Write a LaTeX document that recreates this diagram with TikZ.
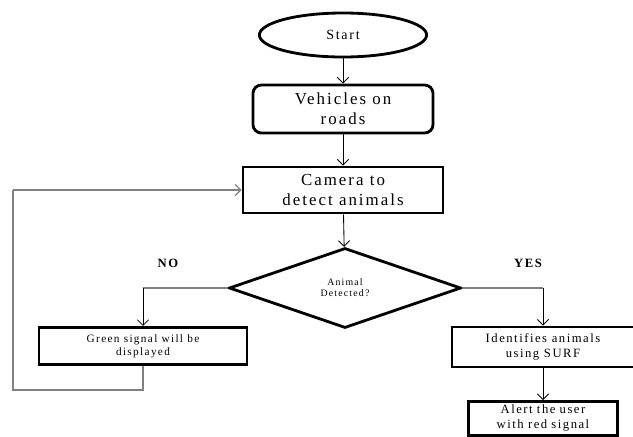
\documentclass[tikz,border=0pt]{standalone}
\usepackage{fontspec}
\setmainfont{Liberation Serif}
\newfontfamily\spaced[LetterSpace=12]{Liberation Serif}
\usetikzlibrary{shapes.geometric,arrows.meta}

\begin{document}
\begin{tikzpicture}[
		x=0.025cm, y=-0.025cm,
		every node/.style={draw, line width=2pt, align=center, inner sep=1pt},
		arr/.style={draw, line width=0.6pt, -{Straight Barb[width=8pt,length=4pt,line width=0.6pt]}},
		back/.style={draw=gray, line width=0.8pt},
		lab/.style={draw=none, font=\spaced\bfseries\small}
	]
  \useasboundingbox (0,0) rectangle (633,436);
  \node (start) [ellipse, minimum width=4.18cm, minimum height=1.1cm, font=\spaced] at (343,35) {Start};
  \node (vehicles) [rectangle, rounded corners=6pt, minimum width=4.5cm, minimum height=1.2cm, font=\spaced\large] at (343,109) {Vehicles on\\roads};
  \node (camera) [rectangle, minimum width=5.0cm, minimum height=1.15cm, font=\spaced\large] at (343,190) {Camera to\\detect animals};
  \node (detect) [diamond, minimum width=5.8cm, minimum height=2cm, inner sep=0pt, font=\spaced\scriptsize] at (345,288) {Animal\\Detected?};
  \node (green) [rectangle, minimum width=5.2cm, minimum height=0.93cm, font=\spaced\footnotesize] at (143,346) {Green signal will be\\displayed};
  \node (surf) [rectangle, minimum width=4.55cm, minimum height=1.0cm, font=\spaced\small] at (543,347) {Identifies animals\\using SURF};
  \node (alert) [rectangle, anchor=north, text width=3.6cm, inner sep=2pt, font=\spaced\small, text depth=14pt] at (543,400) {Alert the user\\with red signal};
  \node (no) [lab] at (168,263) {NO};
  \node (yes) [lab] at (528,263) {YES};
  \coordinate (nocorner) at (green |- detect.west);
  \coordinate (yescorner) at (surf |- detect.east);
  \coordinate (loopbl) at (13,390);
  \draw[arr] (start) -- (vehicles);
  \draw[arr] (vehicles) -- (camera);
  \draw[arr] (camera) -- (detect);
  \draw[back] (detect.west) -- (nocorner);
  \draw[arr] (nocorner) -- (green);
  \draw[back] (detect.east) -- (yescorner);
  \draw[arr] (yescorner) -- (surf);
  \draw[arr] (surf) -- (alert);
  \draw[back] (green.south) |- (loopbl) -- (loopbl |- camera.west);
  \draw[back, -{Straight Barb[width=8pt,length=4pt,line width=0.8pt]}] (loopbl |- camera.west) -- (camera.west);
\end{tikzpicture}
\end{document}
